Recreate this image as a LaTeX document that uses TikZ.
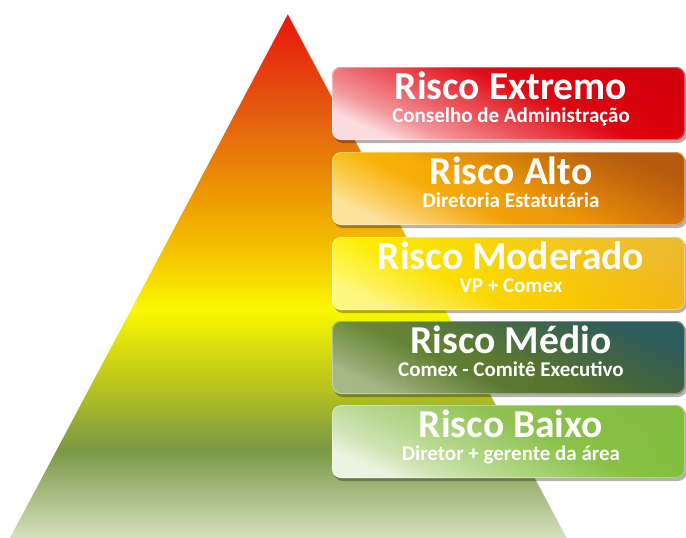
\documentclass[tikz,border=0pt]{standalone}
\usepackage{fontspec}
\setmainfont{Carlito}
\usetikzlibrary{fadings}
\definecolor{p0}{HTML}{D4E0BC}
\definecolor{p1}{HTML}{7A9846}
\definecolor{p2}{HTML}{B4C020}
\definecolor{p3}{HTML}{FAF800}
\definecolor{p4}{HTML}{F6CA00}
\definecolor{p5}{HTML}{EE9C00}
\definecolor{p6}{HTML}{E46210}
\definecolor{p7}{HTML}{E8140C}
\pgfdeclareverticalshading{pyr}{100bp}{color(0bp)=(p0); color(25bp)=(p0); color(33.4bp)=(p1); color(39bp)=(p2); color(46.8bp)=(p3); color(51.5bp)=(p4); color(57.3bp)=(p5); color(64.9bp)=(p6); color(75bp)=(p7); color(100bp)=(p7)}
\pgfdeclarehorizontalshading{glosssh}{100bp}{color(0bp)=(white); color(25bp)=(white); color(29bp)=(white!70!black); color(41bp)=(black); color(100bp)=(black)}
\pgfdeclarehorizontalshading{glosswidesh}{100bp}{color(0bp)=(white); color(25bp)=(white); color(32bp)=(white!65!black); color(42bp)=(white!35!black); color(56bp)=(black); color(100bp)=(black)}
\pgfdeclarehorizontalshading{tintsh}{100bp}{color(0bp)=(black); color(48bp)=(black); color(75bp)=(white); color(100bp)=(white)}
\tikzfading[name=gloss, shading=glosssh]
\tikzfading[name=glosswide, shading=glosswidesh]
\tikzfading[name=tint, shading=tintsh]
\newcommand\riskbox[9]{%
  \definecolor{bxl}{HTML}{#3}\definecolor{bxr}{HTML}{#4}\definecolor{bxt}{HTML}{#5}%
  \fill[black, opacity=0.3, boxshape] (334,#2+3) rectangle (687,#2+76);
  \shade[boxshape, left color=bxl, right color=bxr] (332,#2) rectangle (685,#2+73);
  \fill[bxt, opacity=#6, boxshape, path fading=tint, fading angle=30] (332,#2) rectangle (685,#2+73);
  \fill[white, boxshape, path fading=gloss, fading angle=25, #7] (332,#2) rectangle (685,#2+73);
  \draw[white, opacity=0.35, line width=0.8pt, boxshape] (332.5,#2+0.5) rectangle (684.5,#2+72.5);
  \node[titletext] (#1t) at (511,#2+32.5) {#8};
  \node[subtext] (#1s) at (511,#2+55.5) {#9};
}
\begin{document}
\begin{tikzpicture}[x=1pt,y=-1pt,
  boxshape/.style={rounded corners=9pt},
  titletext/.style={font=\bfseries\fontsize{39.5}{41}\selectfont, text=white, anchor=base, inner sep=0pt, text depth=0pt},
  subtext/.style={font=\bfseries\fontsize{21}{23}\selectfont, text=white, anchor=base, inner sep=0pt, text height=14pt}]
\useasboundingbox (0,0) rectangle (686,538);
\shade[shading=pyr] (288,14) -- (567,538) -- (10,538) -- cycle;
\draw[white, opacity=0.5, line width=1pt] (288,14) -- (567,538);
\riskbox{ext}{67}{E41A24}{E2000C}{C4000A}{0.5}{opacity=0.85, path fading=glosswide}{Risco Extremo}{Conselho de Administração}
\riskbox{alt}{152}{FBB905}{E8840A}{A9500F}{0.8}{opacity=0.6}{Risco Alto}{Diretoria Estatutária}
\riskbox{mod}{237}{FFF200}{F7B500}{E0C070}{0.4}{opacity=0.5}{Risco Moderado}{VP + Comex}
\riskbox{med}{321}{6A8A36}{4D662A}{2A5B62}{0.9}{opacity=0.4}{Risco Médio}{Comex - Comitê Executivo}
\riskbox{bai}{405}{9CC866}{84C23E}{7FB040}{0.3}{opacity=0.8, path fading=glosswide}{Risco Baixo}{Diretor + gerente da área}
\end{tikzpicture}
\end{document}
